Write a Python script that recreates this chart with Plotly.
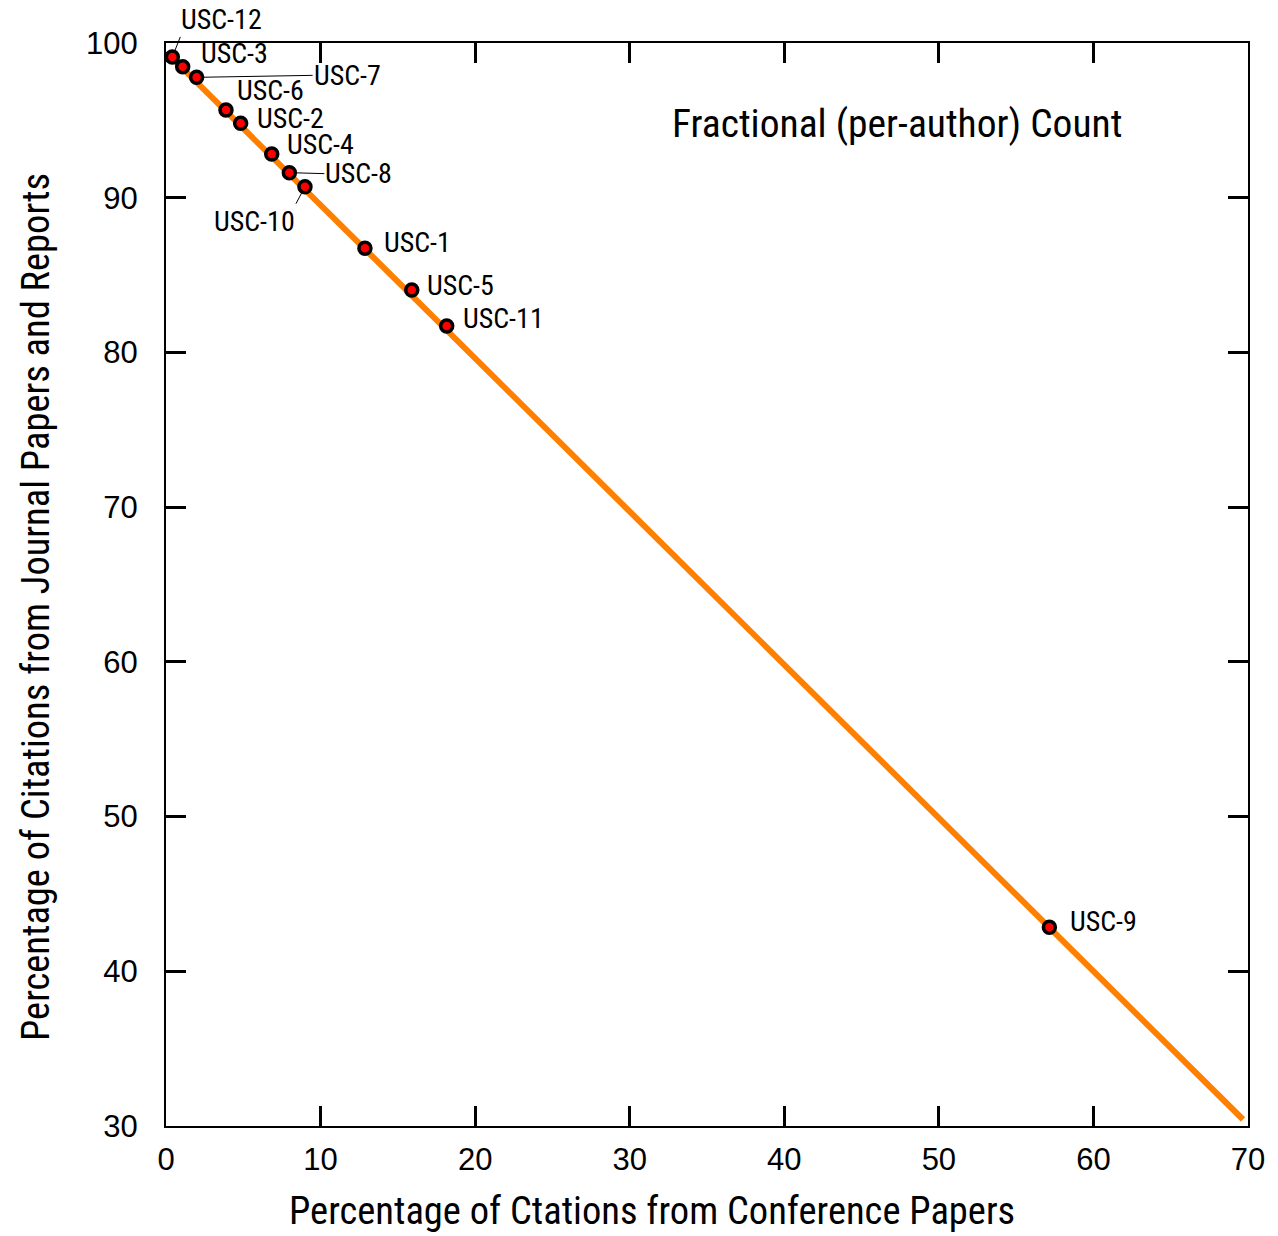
import plotly.graph_objects as go

# ---- data ----
labels = ["USC-12", "USC-3", "USC-7", "USC-6", "USC-2", "USC-4", "USC-8",
          "USC-10", "USC-1", "USC-5", "USC-11", "USC-9"]
conf_pct = [0.41, 1.08, 1.98, 3.88, 4.83, 6.84, 7.98, 8.99, 12.87, 15.90, 18.16, 57.15]
journal_pct = [99.10, 98.47, 97.78, 95.67, 94.81, 92.82, 91.62, 90.71, 86.73, 84.03, 81.71, 42.84]
fit_x = [0.41, 69.68]
fit_y = [99.02, 30.42]
x_ticks = [0, 10, 20, 30, 40, 50, 60, 70]
y_ticks = [30, 40, 50, 60, 70, 80, 90, 100]

FONT = "Liberation Sans Narrow, Arial Narrow, Roboto Condensed, sans-serif"
TICKFONT = "Liberation Sans, Arial, sans-serif"

fig = go.Figure()
fig.add_trace(go.Scatter(x=fit_x, y=fit_y, mode="lines",
                         line=dict(color="#FF8000", width=6), hoverinfo="skip"))
fig.add_trace(go.Scatter(x=conf_pct, y=journal_pct, mode="markers", text=labels,
                         marker=dict(color="#FF0000", size=12,
                                     line=dict(color="black", width=3.5))))

# label placement: (xshift, yshift) for plain labels
plain = {
    "USC-3": (17, 13), "USC-6": (10, 19), "USC-2": (15, 5), "USC-4": (14, 10),
    "USC-1": (18, 6), "USC-5": (14, 5), "USC-11": (15, 7), "USC-9": (20, 6),
}
# leader-line labels: (ax, ay, xanchor, yanchor)
leader = {
    "USC-12": (8, -20, "left", "bottom"),
    "USC-7": (116, -2, "left", "middle"),
    "USC-8": (35, 1, "left", "middle"),
    "USC-10": (-9, 17, "right", "top"),
}
for name, xv, yv in zip(labels, conf_pct, journal_pct):
    if name in plain:
        dx, dy = plain[name]
        fig.add_annotation(x=xv, y=yv, text=name, showarrow=False, xanchor="left",
                           yanchor="middle", xshift=dx, yshift=dy, borderpad=0,
                           font=dict(size=28, color="black", family=FONT))
    else:
        ax, ay, xa, ya = leader[name]
        fig.add_annotation(x=xv, y=yv, text=name, showarrow=True, arrowhead=0,
                           arrowwidth=1, arrowcolor="black", standoff=7,
                           ax=ax, ay=ay, xanchor=xa, yanchor=ya, borderpad=0,
                           font=dict(size=28, color="black", family=FONT))

fig.add_annotation(x=0.676, y=0.926, xref="paper", yref="paper",
                   text="Fractional (per-author) Count", showarrow=False,
                   xanchor="center", yanchor="middle",
                   font=dict(size=39.5, color="black", family=FONT))

# axis titles as annotations (positioned like the reference)
fig.add_annotation(x=(652 - 166) / 1082, y=-(1210 - 1126) / 1083, xref="paper", yref="paper",
                   text="Percentage of Ctations from Conference Papers", showarrow=False,
                   xanchor="center", yanchor="middle",
                   font=dict(size=38.5, color="black", family=FONT))
fig.add_annotation(x=-(166 - 35) / 1082, y=1 - (607 - 43) / 1083, xref="paper", yref="paper",
                   text="Percentage of Citations from Journal Papers and Reports",
                   showarrow=False, textangle=-90, xanchor="center", yanchor="middle",
                   font=dict(size=38.5, color="black", family=FONT))

axis_common = dict(showline=True, linecolor="black", linewidth=2, mirror="allticks",
                   ticks="inside", ticklen=20, tickwidth=3, tickcolor="black",
                   showgrid=False, zeroline=False,
                   tickfont=dict(size=31, color="black", family=TICKFONT))
fig.update_xaxes(range=[0, 70], tickvals=x_ticks, ticklabelstandoff=5, **axis_common)
fig.update_yaxes(range=[30, 100], tickvals=y_ticks, ticklabelstandoff=20, **axis_common)

fig.update_layout(width=1278, height=1236, showlegend=False,
                  plot_bgcolor="white", paper_bgcolor="white",
                  margin=dict(l=166, r=30, t=43, b=110))
fig.write_html("out.html")
